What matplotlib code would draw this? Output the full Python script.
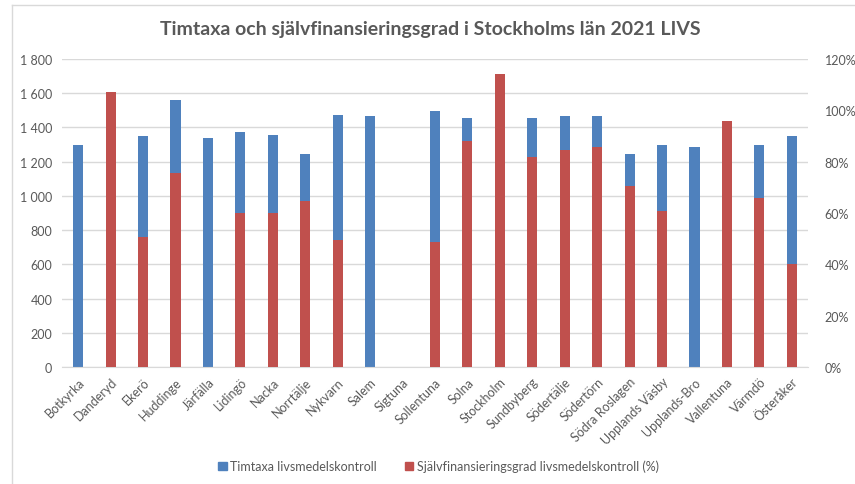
import matplotlib.pyplot as plt
import numpy as np
from matplotlib.lines import Line2D
from matplotlib.patches import Patch
from matplotlib.ticker import FuncFormatter

plt.rcParams["font.family"] = ["Lato", "DejaVu Sans"]

kommuner = ["Botkyrka", "Danderyd", "Ekerö", "Huddinge", "Järfälla", "Lidingö", "Nacka",
            "Norrtälje", "Nykvarn", "Salem", "Sigtuna", "Sollentuna", "Solna", "Stockholm",
            "Sundbyberg", "Södertälje", "Södertörn", "Södra Roslagen", "Upplands Väsby",
            "Upplands-Bro", "Vallentuna", "Värmdö", "Österåker"]
# timtaxa (kr); hidden behind red bars for Danderyd, Stockholm, Vallentuna -> estimated
timtaxa = [1295, 1400, 1350, 1562, 1338, 1375, 1354, 1245, 1475, 1467, 0, 1498, 1453, 1400,
           1457, 1469, 1469, 1245, 1297, 1286, 1300, 1297, 1350]
# självfinansieringsgrad (%)
sjalvfin = [0, 107, 50.6, 75.7, 0, 60, 60, 64.7, 49.4, 0, 0, 48.6, 87.9, 114,
            81.7, 84.7, 85.8, 70.5, 60.6, 0, 95.7, 65.7, 40]

BLUE = "#4F81BD"
RED = "#C0504D"
GREY = "#595959"

fig = plt.figure(figsize=(8.55, 4.85), dpi=100)
ax = fig.add_axes([62 / 855, 1 - 368 / 485, 746 / 855, 308 / 485])
ax2 = ax.twinx()

x = np.arange(len(kommuner))
w = 0.31
ax.bar(x, timtaxa, width=w, color=BLUE, zorder=2)
ax2.bar(x, sjalvfin, width=w, color=RED, zorder=2)

ax.set_xlim(-0.5, len(kommuner) - 0.5)
ax.set_ylim(0, 1800)
ax2.set_ylim(0, 120)
ax.set_yticks(range(0, 1801, 200))
ax2.set_yticks(range(0, 121, 20))
ax.yaxis.set_major_formatter(FuncFormatter(lambda v, p: f"{int(v):,}".replace(",", " ")))
ax2.yaxis.set_major_formatter(FuncFormatter(lambda v, p: f"{int(v)}%"))
ax.grid(axis="y", color="#D9D9D9", lw=1, zorder=0)
ax.set_axisbelow(True)

for a in (ax, ax2):
    for s in a.spines.values():
        s.set_visible(False)
    a.tick_params(length=0, labelsize=9, labelcolor=GREY)
ax.spines["bottom"].set_visible(True)
ax.spines["bottom"].set_color("#D9D9D9")
ax.tick_params(axis="y", pad=7)
ax2.tick_params(axis="y", pad=12)

ax.set_xticks(x)
ax.set_xticklabels(kommuner, rotation=45, ha="right", rotation_mode="anchor", fontsize=9)
ax.tick_params(axis="x", pad=6)

fig.text(0.503, 1 - 30 / 485, "Timtaxa och självfinansieringsgrad i Stockholms län 2021 LIVS",
         ha="center", va="center", fontsize=14, fontweight="bold", color=GREY)

handles = [Patch(color=BLUE, label="Timtaxa livsmedelskontroll"),
           Patch(color=RED, label="Självfinansieringsgrad livsmedelskontroll (%)")]
fig.legend(handles=handles, loc="center", bbox_to_anchor=(0.513, 1 - 467 / 485), ncol=2,
           frameon=False, fontsize=9, labelcolor=GREY, handlelength=0.7, handleheight=0.7,
           handletextpad=0.3, columnspacing=2.2)

# chart frame
fig.add_artist(Line2D([12 / 855, 12 / 855], [0, 1 - 6 / 485], color="#D9D9D9", lw=1,
                      transform=fig.transFigure))
fig.add_artist(Line2D([12 / 855, 1], [1 - 6 / 485, 1 - 6 / 485], color="#D9D9D9", lw=1,
                      transform=fig.transFigure))

fig.savefig("out.png", dpi=100)
